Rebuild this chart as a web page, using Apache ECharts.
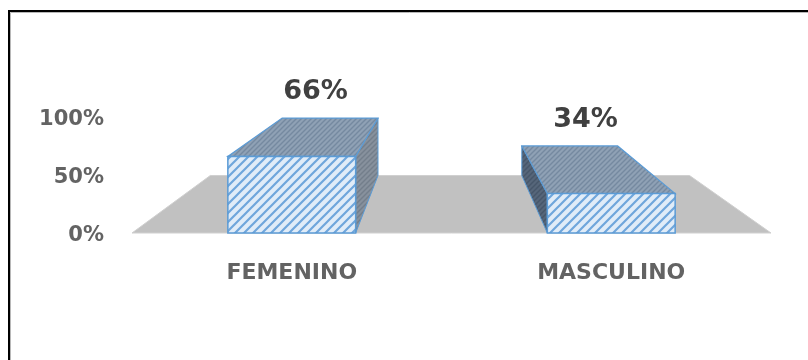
<!DOCTYPE html>
<html>
<head>
<meta charset="utf-8">
<script src="https://cdn.jsdelivr.net/npm/echarts@6/dist/echarts.min.js"></script>
<style>
  html, body { margin: 0; padding: 0; background: #fff; }
  #chart { width: 808px; height: 360px; }
</style>
</head>
<body>
<div id="chart"></div>
<script>
// Gender split shown as 3D-style columns on a grey floor
const categories = ['FEMENINO', 'MASCULINO'];
const values = [66, 34];
const yTickStep = 50;
const yMax = 100;

const FONT = 'DejaVu Sans';
const BACK_SCALE = 0.75;   // size of the back plane relative to the front plane
const BAR_RATIO = 0.4;     // bar width as a share of the category band

// Diagonal hatch tile
function hatch(bg, line, size, width) {
  const c = document.createElement('canvas');
  c.width = size; c.height = size;
  const g = c.getContext('2d');
  g.fillStyle = bg;
  g.fillRect(0, 0, size, size);
  g.strokeStyle = line;
  g.lineWidth = width;
  g.lineCap = 'square';
  g.beginPath();
  g.moveTo(0, size); g.lineTo(size, 0);
  g.moveTo(-size / 2, size / 2); g.lineTo(size / 2, -size / 2);
  g.moveTo(size / 2, size * 1.5); g.lineTo(size * 1.5, size / 2);
  g.stroke();
  return { image: c, repeat: 'repeat' };
}

const frontFill = hatch('#e0ecf8', '#6fa6db', 9, 2.2);
const topFill = hatch('#8fa1b5', '#7589a0', 5, 1.4);
const sideFillLight = hatch('#87919d', '#737e8b', 5, 1.4);
const sideFillDark = hatch('#56667a', '#46566a', 5, 1.4);

function vanish(cs) {
  return [cs.x + cs.width * 0.49, cs.y - 114];
}
function proj(p, vp) {
  return [vp[0] + BACK_SCALE * (p[0] - vp[0]), vp[1] + BACK_SCALE * (p[1] - vp[1])];
}

const chart = echarts.init(document.getElementById('chart'));

const option = {
  backgroundColor: '#ffffff',
  animation: false,
  grid: { left: 132, right: 37, top: 117, bottom: 127 },
  xAxis: {
    type: 'category',
    data: categories,
    axisLine: { show: false },
    axisTick: { show: false },
    axisLabel: {
      margin: 29,
      fontFamily: FONT,
      fontWeight: 'bold',
      fontSize: 22,
      color: '#636363'
    }
  },
  yAxis: {
    type: 'value',
    min: 0,
    max: yMax,
    interval: yTickStep,
    axisLine: { show: false },
    axisTick: { show: false },
    splitLine: { show: false },
    axisLabel: {
      margin: 28,
      formatter: '{value}%',
      fontFamily: FONT,
      fontWeight: 'bold',
      fontSize: 21,
      color: '#636363',
      verticalAlign: 'top',
      lineHeight: 6
    }
  },
  graphic: [
    {
      type: 'rect', z: 100, silent: true,
      shape: { x: 9, y: 11, width: 1200, height: 1200 },
      style: { fill: 'none', stroke: '#000', lineWidth: 2 }
    },
    {
      type: 'rect', z: 100, silent: true,
      shape: { x: 10.5, y: 12.5, width: 1200, height: 1200 },
      style: { fill: 'none', stroke: '#b8b8b8', lineWidth: 1 }
    }
  ],
  series: [
    {
      // floor plane
      type: 'custom',
      z: 1,
      silent: true,
      data: [[0, 0]],
      renderItem: function (params, api) {
        const cs = params.coordSys;
        const vp = vanish(cs);
        const y0 = api.coord([0, 0])[1];
        const fl = [cs.x, y0];
        const fr = [cs.x + cs.width, y0];
        const bl = proj(fl, vp);
        const br = proj(fr, vp);
        return {
          type: 'polygon',
          shape: { points: [fl, fr, br, bl] },
          style: { fill: '#c1c1c1', stroke: '#d0d0d0', lineWidth: 1 }
        };
      }
    },
    {
      type: 'custom',
      z: 2,
      silent: true,
      encode: { x: 0, y: 1 },
      data: values.map(function (v, i) { return [i, v]; }),
      renderItem: function (params, api) {
        const cs = params.coordSys;
        const vp = vanish(cs);
        const idx = api.value(0);
        const val = api.value(1);
        const top = api.coord([idx, val]);
        const base = api.coord([idx, 0]);
        const w = api.size([1, 0])[0] * BAR_RATIO;
        const x0 = top[0] - w / 2, x1 = top[0] + w / 2;
        const ft0 = [x0, top[1]], ft1 = [x1, top[1]];
        const fb0 = [x0, base[1]], fb1 = [x1, base[1]];
        const bt0 = proj(ft0, vp), bt1 = proj(ft1, vp);
        const bb0 = proj(fb0, vp), bb1 = proj(fb1, vp);
        const leftOfCentre = top[0] < vp[0];
        const side = leftOfCentre
          ? { points: [ft1, bt1, bb1, fb1], fill: sideFillLight }
          : { points: [ft0, bt0, bb0, fb0], fill: sideFillDark };
        const edge = '#5b9bd5';
        // label sits above the top face, part way back
        const f = 0.62;
        const lx = top[0] + f * ((bt0[0] + bt1[0]) / 2 - top[0]);
        const ly = bt0[1] - 26;
        return {
          type: 'group',
          children: [
            {
              type: 'polygon',
              shape: { points: side.points },
              style: { fill: side.fill, stroke: edge, lineWidth: 1 }
            },
            {
              type: 'polygon',
              shape: { points: [ft0, ft1, bt1, bt0] },
              style: { fill: topFill, stroke: edge, lineWidth: 1.2 }
            },
            {
              type: 'rect',
              shape: { x: x0, y: top[1], width: w, height: base[1] - top[1] },
              style: { fill: frontFill, stroke: edge, lineWidth: 1.5 }
            },
            {
              type: 'text',
              x: lx,
              y: ly,
              style: {
                text: Math.round(val) + '%',
                font: 'bold 27px "' + FONT + '"',
                fill: '#404040',
                align: 'center',
                verticalAlign: 'middle'
              }
            }
          ]
        };
      }
    }
  ]
};

chart.setOption(option);
</script>
</body>
</html>
